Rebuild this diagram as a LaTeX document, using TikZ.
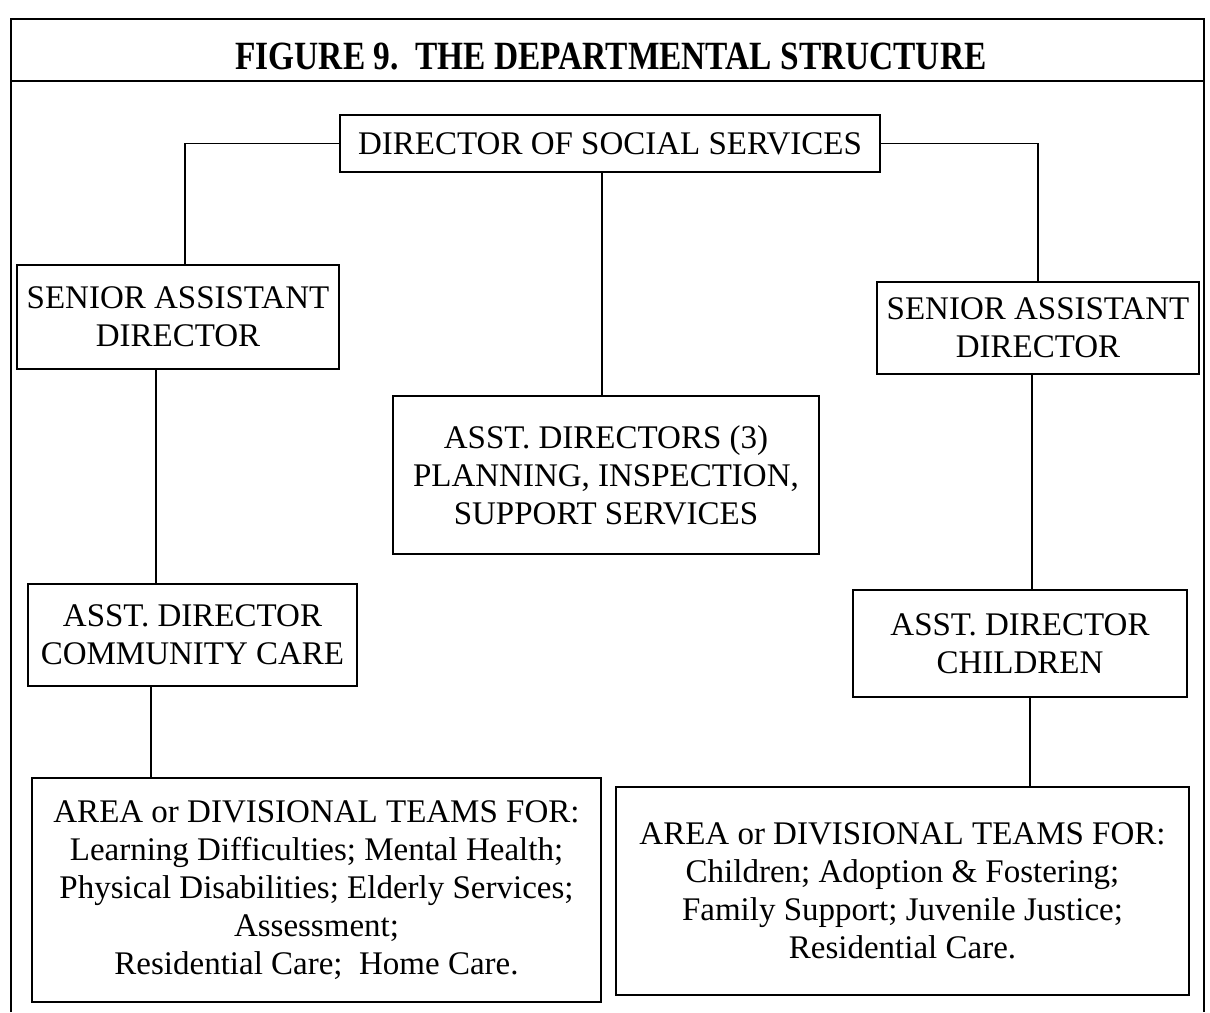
\documentclass[tikz,border=0pt]{standalone}
\usepackage{fontspec}
\usepackage{graphicx}
\setmainfont{Liberation Serif}
\begin{document}
\begin{tikzpicture}[x=1pt,y=-1pt,
  box/.style={draw, line width=1.8pt, align=center, inner sep=0pt, font=\fontsize{33}{38}\selectfont},
  wire/.style={line width=1.8pt},
  titletext/.style={font=\bfseries\fontsize{33.4}{40}\selectfont, inner sep=0pt}]
\useasboundingbox (0,0) rectangle (1210,1012);
% outer frame and title bar
\draw[wire] (11,1012) -- (11,19) -- (1204,19) -- (1204,1012);
\draw[wire] (11,81) -- (1204,81);
\node[titletext] (title) at (611,57) {\scalebox{1}[1.2]{FIGURE 9.\ \ THE DEPARTMENTAL STRUCTURE}};
% boxes
\node[box, minimum width=540, minimum height=57] (dir) at (610,143.5) {DIRECTOR OF SOCIAL SERVICES};
\node[box, minimum width=322, minimum height=104] (ls) at (178,317) {SENIOR ASSISTANT\\DIRECTOR};
\node[box, minimum width=322, minimum height=92] (rs) at (1038,328) {SENIOR ASSISTANT\\DIRECTOR};
\node[box, minimum width=426, minimum height=158] (mid) at (606,475) {ASST. DIRECTORS (3)\\PLANNING, INSPECTION,\\SUPPORT SERVICES};
\node[box, minimum width=329, minimum height=102] (cc) at (192.5,635) {ASST. DIRECTOR\\COMMUNITY CARE};
\node[box, minimum width=334, minimum height=107] (ch) at (1020,643.5) {ASST. DIRECTOR\\CHILDREN};
\node[box, minimum width=569, minimum height=224] (la) at (316.5,890) {AREA or DIVISIONAL TEAMS FOR:\\Learning Difficulties; Mental Health;\\Physical Disabilities; Elderly Services;\\Assessment;\\Residential Care;\ \ Home Care.};
\node[box, minimum width=573, minimum height=208] (ra) at (902.5,891) {AREA or DIVISIONAL TEAMS FOR:\\Children; Adoption \& Fostering;\\Family Support; Juvenile Justice;\\Residential Care.};
% connectors
\draw[wire] (dir.west) -| ([xshift=7]ls.north);
\draw[wire] (dir.east) -| (rs.north);
\draw[wire] ([xshift=-8]dir.south) -- ([xshift=-4]mid.north);
\draw[wire] ([xshift=-22]ls.south) -- ([xshift=-36.5]cc.north);
\draw[wire] ([xshift=-41.5]cc.south) -- ([xshift=-165.5]la.north);
\draw[wire] ([xshift=-6]rs.south) -- ([xshift=12]ch.north);
\draw[wire] ([xshift=10]ch.south) -- ([xshift=127.5]ra.north);
\end{tikzpicture}
\end{document}
